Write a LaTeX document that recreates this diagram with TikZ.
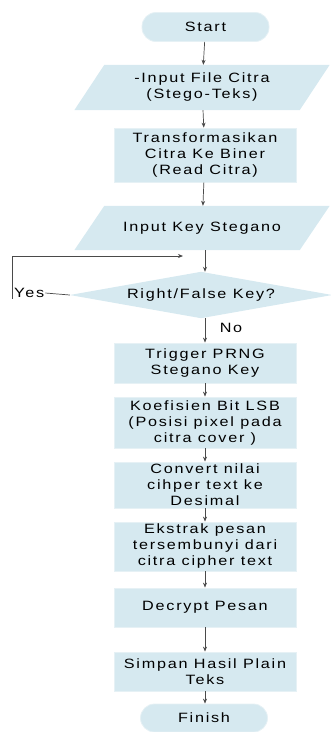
\documentclass[tikz,border=0pt]{standalone}
\usepackage{fontspec}
\setmainfont{Liberation Sans}[FakeStretch=1.2,LetterSpace=13]
\usetikzlibrary{arrows.meta,backgrounds}
\definecolor{fillc}{HTML}{D6E9F0}
\definecolor{edgec}{HTML}{E6F1F5}
\definecolor{linec}{HTML}{4A4A4A}
\newcommand{\flowfont}{\fontsize{13.5}{16}\selectfont}
\begin{document}
\begin{tikzpicture}[x=1pt,y=-1pt,
  proc/.style={rectangle, fill=fillc, draw=edgec, line width=0.8pt, minimum width=182pt, align=center, inner sep=0pt, font=\flowfont},
  term/.style={rectangle, rounded corners=14pt, fill=fillc, draw=edgec, line width=0.8pt, minimum width=127pt, minimum height=29pt, inner sep=0pt, font=\flowfont},
  io/.style={rectangle, minimum width=225pt, minimum height=45pt, align=center, inner sep=0pt, font=\flowfont},
  dec/.style={rectangle, minimum width=262pt, minimum height=46pt, inner sep=0pt, font=\flowfont},
  lbl/.style={inner sep=1pt, font=\flowfont},
  arr/.style={draw=linec, line width=0.7pt, -{Stealth[length=5pt,width=4pt]}},
  ln/.style={draw=linec, line width=0.7pt}]
\useasboundingbox (0,0) rectangle (331,732);
\node[term] (start) at (205.5,27) {Start};
\node[io] (in1) at (202,87.5) {-Input File Citra\\(Stego-Teks)};
\node[proc, minimum height=54pt] (b1) at (205,155) {Transformasikan\\Citra Ke Biner\\(Read Citra)};
\node[io, minimum height=44pt] (in2) at (202,228) {Input Key Stegano};
\node[dec] (d) at (201,295) {Right/False Key?};
\node[proc, minimum height=40pt] (b2) at (205,363) {Trigger PRNG\\Stegano Key};
\node[proc, minimum height=51pt] (b3) at (205,422.5) {Koefisien Bit LSB\\(Posisi pixel pada\\citra cover )};
\node[proc, minimum height=46pt] (b4) at (205,485) {Convert nilai\\cihper text ke\\Desimal};
\node[proc, minimum height=49pt] (b5) at (205,546.5) {Ekstrak pesan\\tersembunyi dari\\citra cipher text};
\node[proc, minimum height=39pt] (b6) at (205,607.5) {Decrypt Pesan};
\node[proc, minimum height=39pt] (b7) at (205,671.5) {Simpan Hasil Plain\\Teks};
\node[term, minimum height=28pt] (fin) at (204,718) {Finish};
\begin{scope}[on background layer]
\foreach \n in {in1,in2}{
  \fill[fillc] ([xshift=15pt]\n.north west) -- ([xshift=15pt]\n.north east) -- ([xshift=-15pt]\n.south east) -- ([xshift=-15pt]\n.south west) -- cycle;
}
\fill[fillc] (d.north) -- (d.east) -- (d.south) -- (d.west) -- cycle;
\end{scope}
\node[lbl, anchor=west] (yes) at (13,293) {Yes};
\node[lbl] (no) at (231,328) {No};
\coordinate (fb) at (183,256);
\draw[arr] (start) -- (in1);
\draw[arr] (in1) -- (b1);
\draw[arr] (b1) -- (in2);
\draw[arr] (in2.south -| b1.south) -- (d.north -| b1.south);
\draw[arr] (d.south -| b2.north) -- (b2);
\draw[arr] (b2) -- (b3);
\draw[arr] (b3) -- (b4);
\draw[arr] (b4) -- (b5);
\draw[arr] (b5) -- (b6);
\draw[arr] (b6) -- (b7);
\draw[arr] (b7) -- (fin.north -| b7.south);
\draw[ln] (d.west) -- (yes.east);
\draw[arr] ([xshift=-1pt]yes.south west) |- (fb);
\end{tikzpicture}
\end{document}
